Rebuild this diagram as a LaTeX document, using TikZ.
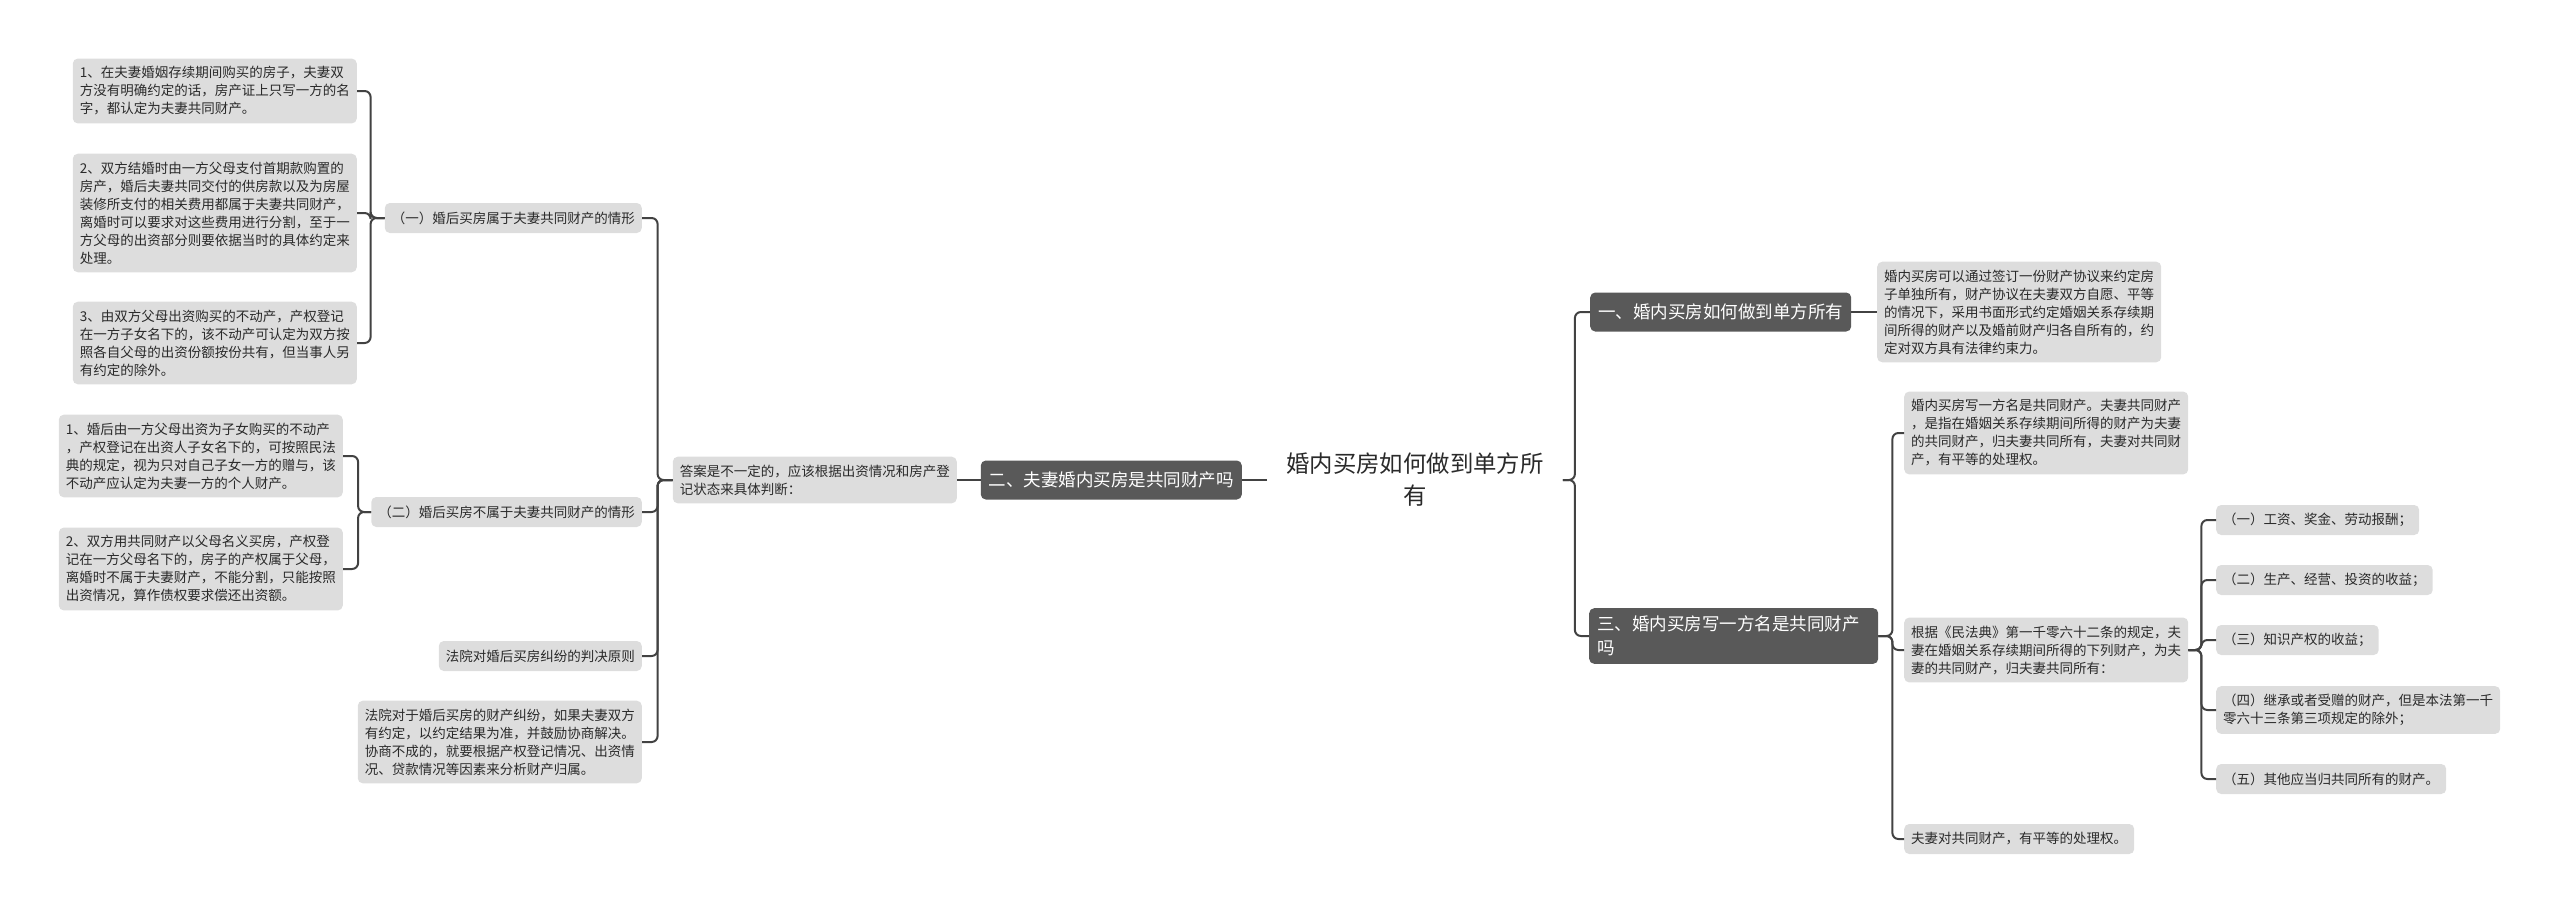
\documentclass[tikz,border=0pt]{standalone}
\usepackage{fontspec}
\setmainfont{Noto Sans CJK SC}
\usepackage{tikz}
\usetikzlibrary{calc}

\definecolor{boxgray}{HTML}{DDDDDD}
\definecolor{topicgray}{HTML}{595959}
\definecolor{linegray}{HTML}{424242}
\definecolor{textgray}{HTML}{2A2A2A}

\tikzset{
    leaf/.style={fill=boxgray, rounded corners=5pt, text=textgray, align=left,
        inner xsep=7pt, inner ysep=8pt, font=\fontsize{13.5}{18}\selectfont},
    oneline/.style={leaf, minimum height=30pt},
    topic/.style={fill=topicgray, rounded corners=5pt, text=white, align=left,
        inner xsep=8pt, inner ysep=8pt, minimum height=39pt,
        font=\fontsize{17.5}{23.5}\selectfont},
    conn/.style={draw=linegray, line width=2pt, rounded corners=6pt},
}

\begin{document}
\begin{tikzpicture}[x=1pt,y=-1pt]
    \useasboundingbox (0,0) rectangle (2560,913);

    % centre
    \node[align=center, inner xsep=19pt, font=\fontsize{23.4}{32}\selectfont, text=textgray] (root) at (1415,480) {婚内买房如何做到单方所\\有};

    % left half
    \node[topic, anchor=east] (b2) at (1242,480) {二、夫妻婚内买房是共同财产吗};
    \node[leaf, anchor=east] (ans) at (957,480) {答案是不一定的，应该根据出资情况和房产登\\记状态来具体判断：};

    \node[oneline, anchor=east] (c1) at (642,218) {（一）婚后买房属于夫妻共同财产的情形};
    \node[oneline, anchor=east] (c2) at (642,512) {（二）婚后买房不属于夫妻共同财产的情形};
    \node[oneline, anchor=east] (c3) at (642,656) {法院对婚后买房纠纷的判决原则};
    \node[leaf, anchor=east] (c4) at (642,742) {法院对于婚后买房的财产纠纷，如果夫妻双方\\有约定，以约定结果为准，并鼓励协商解决。\\协商不成的，就要根据产权登记情况、出资情\\况、贷款情况等因素来分析财产归属。};

    \node[leaf, anchor=east] (l1) at (357,91) {1、在夫妻婚姻存续期间购买的房子，夫妻双\\方没有明确约定的话，房产证上只写一方的名\\字，都认定为夫妻共同财产。};
    \node[leaf, anchor=east] (l2) at (357,213) {2、双方结婚时由一方父母支付首期款购置的\\房产，婚后夫妻共同交付的供房款以及为房屋\\装修所支付的相关费用都属于夫妻共同财产，\\离婚时可以要求对这些费用进行分割，至于一\\方父母的出资部分则要依据当时的具体约定来\\处理。};
    \node[leaf, anchor=east] (l3) at (357,343) {3、由双方父母出资购买的不动产，产权登记\\在一方子女名下的，该不动产可认定为双方按\\照各自父母的出资份额按份共有，但当事人另\\有约定的除外。};
    \node[leaf, anchor=east] (l4) at (343,456) {1、婚后由一方父母出资为子女购买的不动产\\，产权登记在出资人子女名下的，可按照民法\\典的规定，视为只对自己子女一方的赠与，该\\不动产应认定为夫妻一方的个人财产。};
    \node[leaf, anchor=east] (l5) at (343,569) {2、双方用共同财产以父母名义买房，产权登\\记在一方父母名下的，房子的产权属于父母，\\离婚时不属于夫妻财产，不能分割，只能按照\\出资情况，算作债权要求偿还出资额。};

    % right half
    \node[topic, anchor=west] (b1) at (1590,312) {一、婚内买房如何做到单方所有};
    \node[topic, anchor=west, text width=273pt] (b3) at (1589,636) {三、婚内买房写一方名是共同财产\\吗};

    \node[leaf, anchor=west] (r1) at (1877,312) {婚内买房可以通过签订一份财产协议来约定房\\子单独所有，财产协议在夫妻双方自愿、平等\\的情况下，采用书面形式约定婚姻关系存续期\\间所得的财产以及婚前财产归各自所有的，约\\定对双方具有法律约束力。};
    \node[leaf, anchor=west] (r2) at (1904,433) {婚内买房写一方名是共同财产。夫妻共同财产\\，是指在婚姻关系存续期间所得的财产为夫妻\\的共同财产，归夫妻共同所有，夫妻对共同财\\产，有平等的处理权。};
    \node[leaf, anchor=west] (r3) at (1904,650) {根据《民法典》第一千零六十二条的规定，夫\\妻在婚姻关系存续期间所得的下列财产，为夫\\妻的共同财产，归夫妻共同所有：};
    \node[oneline, anchor=west] (r4) at (1904,839) {夫妻对共同财产，有平等的处理权。};

    \node[oneline, anchor=west] (s1) at (2216,520) {（一）工资、奖金、劳动报酬；};
    \node[oneline, anchor=west] (s2) at (2216,580) {（二）生产、经营、投资的收益；};
    \node[oneline, anchor=west] (s3) at (2216,640) {（三）知识产权的收益；};
    \node[leaf, anchor=west] (s4) at (2216,710) {（四）继承或者受赠的财产，但是本法第一千\\零六十三条第三项规定的除外；};
    \node[oneline, anchor=west] (s5) at (2216,779) {（五）其他应当归共同所有的财产。};

    % connectors
    \draw[conn] (root.west) -- (b2.east);
    \draw[conn] (b2.west) -- (ans.east);
    \foreach \c in {c1,c2,c3,c4}
        \draw[conn] (ans.west) -- ++(-15,0) |- (\c.east);
    \foreach \c in {l1,l2,l3}
        \draw[conn] (c1.west) -- ++(-14,0) |- (\c.east);
    \foreach \c in {l4,l5}
        \draw[conn] (c2.west) -- ++(-13,0) |- (\c.east);

    \draw[conn] (root.east) -- ++(12,0) |- (b1.west);
    \draw[conn] (root.east) -- ++(12,0) |- (b3.west);
    \draw[conn] (b1.east) -- (r1.west);
    \foreach \c in {r2,r3,r4}
        \draw[conn] (b3.east) -- ++(14,0) |- (\c.west);
    \foreach \c in {s1,s2,s3,s4,s5}
        \draw[conn] (r3.east) -- ++(13,0) |- (\c.west);
\end{tikzpicture}
\end{document}
